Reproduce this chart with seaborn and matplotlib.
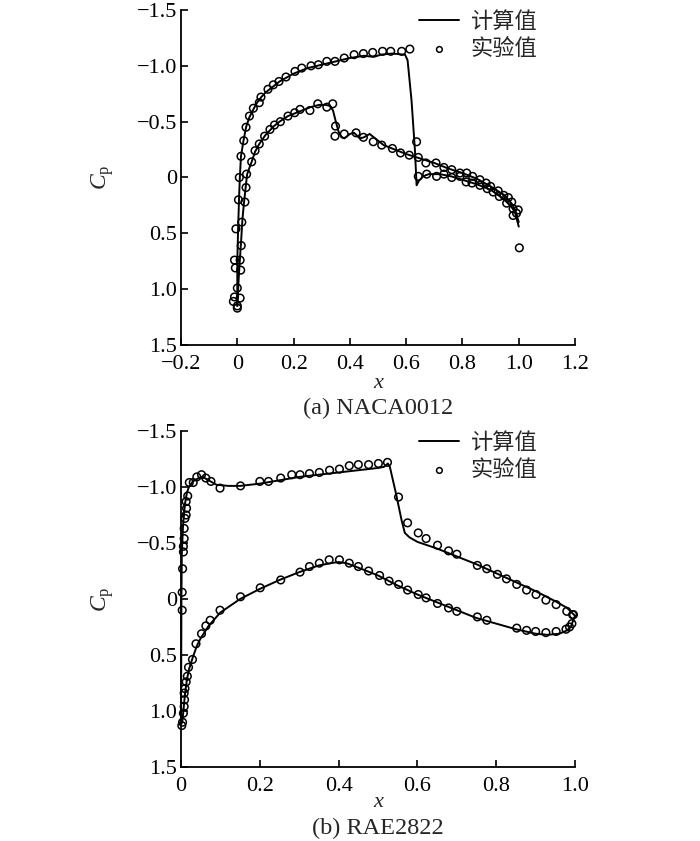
import numpy as np
import pandas as pd
import matplotlib
matplotlib.use('Agg')
import matplotlib.pyplot as plt
import seaborn as sns

# ------------------------------------------------------------------
# (a) NACA0012 : computed Cp (upper / lower surface)
# ------------------------------------------------------------------
naca_up_x = [0.000, 0.000, 0.003, 0.006, 0.009, 0.013, 0.022, 0.031, 0.043, 0.057,
             0.070, 0.085, 0.100, 0.125, 0.150, 0.200, 0.250, 0.300, 0.350, 0.400,
             0.450, 0.485, 0.510, 0.550, 0.596, 0.605, 0.619, 0.631, 0.637, 0.645,
             0.660, 0.680, 0.720, 0.760, 0.800, 0.850, 0.900, 0.940, 0.970, 0.990, 1.000]
naca_up_cp = [1.15, 0.74, 0.45, 0.20, 0.00, -0.19, -0.33, -0.45, -0.54, -0.61,
              -0.67, -0.72, -0.76, -0.81, -0.86, -0.93, -0.98, -1.01, -1.04, -1.07,
              -1.09, -1.08, -1.10, -1.11, -1.10, -1.05, -0.69, -0.25, 0.07, 0.03,
              -0.01, -0.03, -0.03, -0.01, 0.02, 0.06, 0.11, 0.18, 0.25, 0.32, 0.40]

naca_lo_x = [0.000, 0.005, 0.010, 0.014, 0.018, 0.024, 0.030, 0.035, 0.045, 0.051,
             0.063, 0.078, 0.100, 0.130, 0.150, 0.180, 0.200, 0.230, 0.260, 0.290,
             0.315, 0.330, 0.340, 0.350, 0.360, 0.370, 0.380, 0.400, 0.415, 0.435,
             0.450, 0.470, 0.495, 0.520, 0.550, 0.600, 0.650, 0.700, 0.750, 0.800,
             0.850, 0.900, 0.950, 0.980, 1.000]
naca_lo_cp = [1.15, 0.90, 0.70, 0.55, 0.38, 0.22, 0.08, -0.03, -0.10, -0.14,
              -0.23, -0.30, -0.38, -0.46, -0.50, -0.55, -0.57, -0.60, -0.63, -0.65,
              -0.65, -0.64, -0.60, -0.50, -0.41, -0.36, -0.35, -0.39, -0.40, -0.35,
              -0.36, -0.39, -0.34, -0.29, -0.26, -0.21, -0.17, -0.13, -0.08, -0.04,
              0.01, 0.08, 0.16, 0.25, 0.44]

# (a) NACA0012 : experiment
naca_exp_up_x = [0.000, -0.010, -0.014, 0.000, 0.000, -0.010, -0.007, -0.005, 0.004, 0.007,
                 0.013, 0.023, 0.031, 0.043, 0.057, 0.078, 0.084, 0.109, 0.128, 0.148,
                 0.173, 0.205, 0.229, 0.262, 0.288, 0.318, 0.347, 0.380, 0.415, 0.448,
                 0.481, 0.516, 0.545, 0.584, 0.613, 0.637, 0.643, 0.673, 0.708, 0.734,
                 0.762, 0.791, 0.813, 0.834, 0.862, 0.888, 0.909, 0.931, 0.957, 0.980,
                 0.992, 1.002]
naca_exp_up_cp = [1.17, 1.07, 1.11, 1.15, 0.99, 0.74, 0.81, 0.46, 0.20, 0.00,
                  -0.19, -0.33, -0.45, -0.55, -0.62, -0.67, -0.72, -0.79, -0.83, -0.86,
                  -0.90, -0.95, -0.98, -1.00, -1.01, -1.04, -1.04, -1.07, -1.10, -1.11,
                  -1.12, -1.13, -1.13, -1.13, -1.15, -0.32, -0.01, -0.03, -0.01, -0.03,
                  0.00, -0.01, 0.04, 0.05, 0.07, 0.10, 0.13, 0.17, 0.23, 0.28,
                  0.32, 0.63]

naca_exp_lo_x = [0.010, 0.012, 0.010, 0.014, 0.016, 0.027, 0.031, 0.033, 0.051, 0.063,
                 0.078, 0.097, 0.116, 0.132, 0.153, 0.180, 0.204, 0.223, 0.258, 0.286,
                 0.318, 0.339, 0.349, 0.347, 0.380, 0.422, 0.448, 0.483, 0.513, 0.551,
                 0.580, 0.611, 0.643, 0.670, 0.706, 0.734, 0.762, 0.791, 0.815, 0.836,
                 0.862, 0.884, 0.900, 0.927, 0.947, 0.963, 0.975, 0.980, 0.998]
naca_exp_lo_cp = [1.08, 0.83, 0.74, 0.61, 0.40, 0.22, 0.09, -0.03, -0.14, -0.24,
                  -0.30, -0.37, -0.43, -0.47, -0.50, -0.55, -0.58, -0.61, -0.60, -0.66,
                  -0.63, -0.66, -0.46, -0.37, -0.39, -0.40, -0.36, -0.32, -0.29, -0.26,
                  -0.22, -0.20, -0.18, -0.13, -0.13, -0.09, -0.07, -0.04, -0.04, -0.01,
                  0.02, 0.05, 0.08, 0.12, 0.16, 0.18, 0.22, 0.34, 0.29]

# ------------------------------------------------------------------
# (b) RAE2822 : computed Cp
# ------------------------------------------------------------------
rae_up_x = [0.000, 0.0005, 0.001, 0.002, 0.005, 0.010, 0.015, 0.020, 0.030, 0.045,
            0.055, 0.070, 0.090, 0.120, 0.150, 0.200, 0.250, 0.300, 0.350, 0.400,
            0.450, 0.500, 0.515, 0.525, 0.530, 0.545, 0.560, 0.568, 0.580, 0.600,
            0.650, 0.700, 0.750, 0.800, 0.850, 0.900, 0.950, 0.980, 1.000]
rae_up_cp = [1.12, 0.60, 0.00, -0.40, -0.65, -0.85, -0.95, -1.00, -1.05, -1.08,
             -1.09, -1.06, -1.02, -1.01, -1.01, -1.03, -1.06, -1.09, -1.11, -1.13,
             -1.15, -1.17, -1.18, -1.21, -1.18, -0.95, -0.70, -0.59, -0.55, -0.51,
             -0.45, -0.38, -0.31, -0.23, -0.15, -0.07, 0.02, 0.08, 0.15]

rae_lo_x = [0.000, 0.003, 0.006, 0.010, 0.015, 0.020, 0.030, 0.040, 0.050, 0.070,
            0.100, 0.150, 0.200, 0.250, 0.300, 0.350, 0.380, 0.400, 0.420, 0.450,
            0.500, 0.550, 0.600, 0.650, 0.700, 0.750, 0.800, 0.850, 0.900, 0.930,
            0.960, 0.980, 0.990, 1.000]
rae_lo_cp = [1.12, 1.10, 1.00, 0.85, 0.72, 0.63, 0.52, 0.42, 0.35, 0.24,
             0.12, 0.00, -0.09, -0.17, -0.24, -0.30, -0.32, -0.33, -0.32, -0.28,
             -0.21, -0.12, -0.04, 0.03, 0.10, 0.17, 0.22, 0.27, 0.31, 0.32,
             0.31, 0.28, 0.24, 0.15]

# (b) RAE2822 : experiment
rae_exp_up_x = [0.003, 0.003, 0.004, 0.006, 0.006, 0.008, 0.008, 0.010, 0.013, 0.014,
                0.013, 0.017, 0.021, 0.031, 0.040, 0.052, 0.063, 0.076, 0.099, 0.151,
                0.200, 0.222, 0.253, 0.281, 0.302, 0.326, 0.351, 0.377, 0.402, 0.427,
                0.450, 0.476, 0.501, 0.524, 0.552, 0.575, 0.602, 0.622, 0.651, 0.679,
                0.700, 0.752, 0.776, 0.803, 0.826, 0.852, 0.877, 0.901, 0.926, 0.952,
                0.979, 0.994]
rae_exp_up_cp = [-0.06, 0.10, -0.27, -0.42, -0.47, -0.54, -0.63, -0.72, -0.75, -0.81,
                 -0.87, -0.92, -1.04, -1.04, -1.09, -1.11, -1.08, -1.05, -0.99, -1.01,
                 -1.05, -1.05, -1.08, -1.11, -1.11, -1.12, -1.13, -1.15, -1.16, -1.19,
                 -1.20, -1.20, -1.21, -1.22, -0.91, -0.68, -0.59, -0.54, -0.48, -0.43,
                 -0.40, -0.30, -0.27, -0.22, -0.18, -0.13, -0.08, -0.04, 0.01, 0.05,
                 0.11, 0.14]

rae_exp_lo_x = [0.002, 0.004, 0.006, 0.008, 0.009, 0.008, 0.010, 0.013, 0.016, 0.019,
                0.029, 0.038, 0.052, 0.063, 0.074, 0.099, 0.151, 0.201, 0.253, 0.302,
                0.326, 0.351, 0.376, 0.402, 0.427, 0.450, 0.476, 0.504, 0.528, 0.552,
                0.575, 0.602, 0.622, 0.651, 0.679, 0.700, 0.752, 0.776, 0.852, 0.877,
                0.900, 0.926, 0.952, 0.977, 0.986, 0.992, 0.996]
rae_exp_lo_cp = [1.13, 1.10, 1.02, 0.96, 0.90, 0.84, 0.80, 0.74, 0.69, 0.61,
                 0.54, 0.40, 0.31, 0.24, 0.19, 0.10, -0.02, -0.10, -0.17, -0.24,
                 -0.29, -0.32, -0.35, -0.35, -0.32, -0.29, -0.25, -0.21, -0.16, -0.13,
                 -0.08, -0.04, -0.01, 0.04, 0.08, 0.11, 0.16, 0.19, 0.26, 0.28,
                 0.29, 0.30, 0.29, 0.27, 0.25, 0.22, 0.14]

# axis ticks
cp_ticks = [-1.5, -1.0, -0.5, 0.0, 0.5, 1.0, 1.5]
cp_ticklabels = ['\u22121.5', '\u22121.0', '\u22120.5', '0', '0.5', '1.0', '1.5']
naca_xticks = [-0.2, 0.0, 0.2, 0.4, 0.6, 0.8, 1.0, 1.2]
naca_xticklabels = ['\u22120.2', '0', '0.2', '0.4', '0.6', '0.8', '1.0', '1.2']
rae_xticks = [0.0, 0.2, 0.4, 0.6, 0.8, 1.0]
rae_xticklabels = ['0', '0.2', '0.4', '0.6', '0.8', '1.0']

label_calc = '计算值'
label_exp = '实验值'

# ------------------------------------------------------------------
sns.set_style('ticks')
plt.rcParams['font.family'] = ['Liberation Serif', 'Noto Sans CJK SC']
plt.rcParams['mathtext.fontset'] = 'custom'
plt.rcParams['mathtext.rm'] = 'Liberation Serif'
plt.rcParams['mathtext.it'] = 'Liberation Serif:italic'
plt.rcParams['xtick.direction'] = 'in'
plt.rcParams['ytick.direction'] = 'in'

fig = plt.figure(figsize=(7.0, 8.41), dpi=100)
ax1 = fig.add_axes([0.2586, 0.5898, 0.5629, 0.3983])
ax2 = fig.add_axes([0.2586, 0.0880, 0.5629, 0.3995])

line_kw = dict(color='black', linewidth=1.4, sort=False, estimator=None, clip_on=False)
dot_kw = dict(marker='o', s=30, facecolor='none', edgecolor='black', linewidth=1.1, clip_on=False)


def draw_panel(ax, lu_x, lu_cp, ll_x, ll_cp, eu_x, eu_cp, el_x, el_cp):
    sns.lineplot(x=lu_x, y=lu_cp, ax=ax, label=label_calc, **line_kw)
    sns.lineplot(x=ll_x, y=ll_cp, ax=ax, **line_kw)
    sns.scatterplot(x=eu_x, y=eu_cp, ax=ax, label=label_exp, **dot_kw)
    sns.scatterplot(x=el_x, y=el_cp, ax=ax, **dot_kw)


draw_panel(ax1, naca_up_x, naca_up_cp, naca_lo_x, naca_lo_cp,
           naca_exp_up_x, naca_exp_up_cp, naca_exp_lo_x, naca_exp_lo_cp)
draw_panel(ax2, rae_up_x, rae_up_cp, rae_lo_x, rae_lo_cp,
           rae_exp_up_x, rae_exp_up_cp, rae_exp_lo_x, rae_exp_lo_cp)

ax1.set_xlim(-0.2, 1.2)
ax1.set_xticks(naca_xticks)
ax1.set_xticklabels(naca_xticklabels)
ax2.set_xlim(0.0, 1.0)
ax2.set_xticks(rae_xticks)
ax2.set_xticklabels(rae_xticklabels)

for ax in (ax1, ax2):
    ax.set_ylim(1.5, -1.5)
    ax.set_yticks(cp_ticks)
    ax.set_yticklabels(cp_ticklabels)
    ax.tick_params(axis='both', labelsize=16, length=5, width=1.2, colors='black')
    ax.tick_params(axis='x', pad=7.5)
    ax.tick_params(axis='y', pad=3)
    for side in ('top', 'right'):
        ax.spines[side].set_visible(False)
    for side in ('left', 'bottom'):
        ax.spines[side].set_linewidth(1.3)
        ax.spines[side].set_color('black')
    ax.set_ylabel(r'$C_\mathrm{p}$', fontsize=17, rotation=90)
    ax.yaxis.set_label_coords(-0.165, 0.5)
    ax.set_xlabel('x', fontsize=16, style='italic')
    ax.xaxis.label.set_va('center')
    ax.grid(False)
    ax.legend(loc='upper left', bbox_to_anchor=(0.605, 0.995), frameon=False,
              fontsize=16, handlelength=1.8, handletextpad=0.5, markerscale=0.75,
              labelspacing=0.3, borderpad=0.0, borderaxespad=0.0)

ax1.xaxis.set_label_coords(0.5, -0.115)
ax2.xaxis.set_label_coords(0.5, -0.107)

fig.text(378 / 700, 1 - 408 / 841, '(a) NACA0012', ha='center', va='center', fontsize=17.5)
fig.text(378 / 700, 1 - 828 / 841, '(b) RAE2822', ha='center', va='center', fontsize=17.5)

fig.savefig('out.png', dpi=100, facecolor='white')
